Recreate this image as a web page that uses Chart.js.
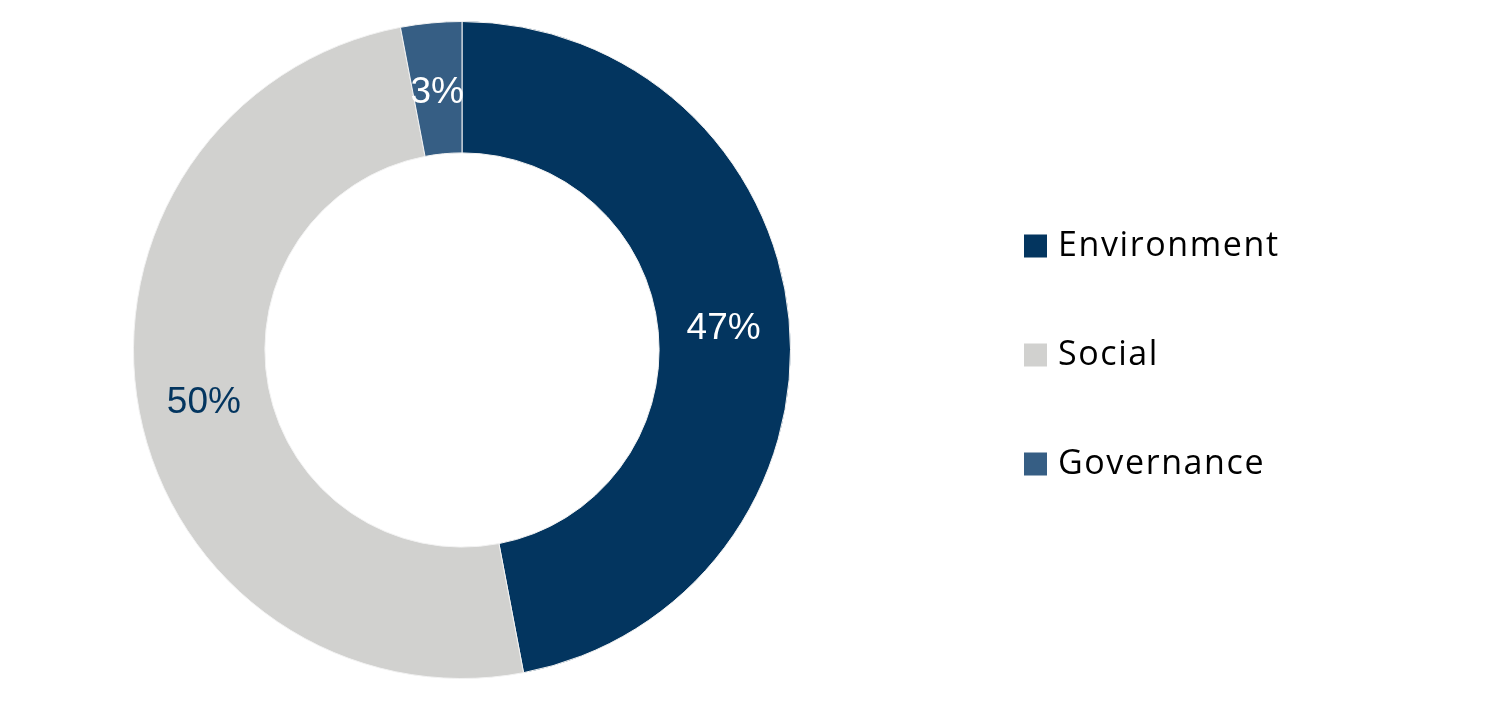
<!DOCTYPE html>
<html>
<head>
<meta charset="utf-8">
<style>
  html, body { margin: 0; padding: 0; background: #fff; }
  #wrap { width: 1494px; height: 710px; position: relative; }
</style>
<script src="https://cdn.jsdelivr.net/npm/chart.js@4.4.1/dist/chart.umd.min.js"></script>
</head>
<body>
<div id="wrap"><canvas id="esg"></canvas></div>
<script>
// ESG split
const categories = ["Environment", "Social", "Governance"];
const shares = [47, 50, 3];
const sliceColors = ["#03355F", "#D1D1CF", "#365E84"];
const labelColors = ["#ffffff", "#03355F", "#ffffff"];

// percent labels in the middle of each ring slice
const sliceLabels = {
  id: "sliceLabels",
  afterDatasetsDraw(chart) {
    const ctx = chart.ctx;
    const meta = chart.getDatasetMeta(0);
    ctx.save();
    ctx.font = "37px 'Liberation Sans', Arial, sans-serif";
    ctx.textAlign = "center";
    ctx.textBaseline = "middle";
    meta.data.forEach((arc, i) => {
      const p = arc.tooltipPosition();
      ctx.fillStyle = labelColors[i];
      ctx.fillText(shares[i] + "%", p.x, p.y + 4);
    });
    ctx.restore();
  }
};

// legend drawn at the right, one item per row
const sideLegend = {
  id: "sideLegend",
  afterDraw(chart) {
    const ctx = chart.ctx;
    const x = 1024, y0 = 246, step = 109, box = 23;
    ctx.save();
    ctx.font = "34px 'Open Sans', sans-serif";
    ctx.letterSpacing = "1.6px";
    ctx.textBaseline = "middle";
    categories.forEach((name, i) => {
      const y = y0 + i * step;
      ctx.fillStyle = sliceColors[i];
      ctx.fillRect(x, y - box / 2, box, box);
      ctx.fillStyle = "#000";
      ctx.fillText(name, x + 34, y);
    });
    ctx.restore();
  }
};

new Chart("esg", {
  type: "doughnut",
  data: {
    labels: categories,
    datasets: [{
      data: shares,
      backgroundColor: sliceColors,
      borderColor: "#f2f2f2",
      borderWidth: 1
    }]
  },
  options: {
    responsive: true,
    maintainAspectRatio: false,
    animation: false,
    cutout: "60%",
    layout: { padding: { left: 0, right: 570, top: 21, bottom: 31 } },
    plugins: {
      legend: { display: false },
      tooltip: { enabled: false }
    }
  },
  plugins: [sliceLabels, sideLegend]
});
</script>
</body>
</html>
